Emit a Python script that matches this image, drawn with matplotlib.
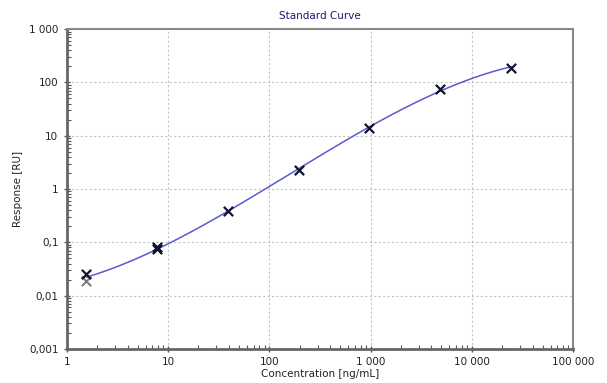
import numpy as np
import matplotlib.pyplot as plt
from matplotlib.ticker import LogLocator, FuncFormatter, NullFormatter

# standard curve replicates (concentration, response)
conc = [1.5625, 7.8125, 7.8125, 39.0625, 195.3125, 976.5625, 4882.8125, 24414.0625]
resp = [0.025, 0.080, 0.074, 0.38, 2.3, 14.2, 75.0, 190.0]
# replicate drawn in grey (excluded)
conc_out = [1.5625]
resp_out = [0.019]

x_ticks = [1, 10, 100, 1000, 10000, 100000]
y_ticks = [0.001, 0.01, 0.1, 1, 10, 100, 1000]


def fmt(v, pos):
    if v >= 1:
        return "{:,.0f}".format(v).replace(",", " ")
    s = "{:.3f}".format(v).rstrip("0")
    return s.replace(".", ",")


# smooth fit in log-log space
all_c = conc + conc_out
all_r = resp + resp_out
lx = np.log10(all_c)
ly = np.log10(all_r)
coef = np.polyfit(lx, ly, 3)
xf = np.logspace(lx.min(), lx.max(), 200)
yf = 10 ** np.polyval(coef, np.log10(xf))

fig = plt.figure(figsize=(6.07, 3.83), dpi=100)
ax = fig.add_axes([0.110, 0.089, 0.834, 0.835])

ax.plot(xf, yf, color="#5a5ad0", lw=1.1, zorder=3)
ax.scatter(conc_out, resp_out, marker="x", s=45, color="#777777", linewidths=1.4, zorder=4)
ax.scatter(conc, resp, marker="x", s=45, color="#111133", linewidths=1.6, zorder=5)

ax.set_xscale("log")
ax.set_yscale("log")
ax.set_xlim(1, 100000)
ax.set_ylim(0.001, 1000)
ax.set_xticks(x_ticks)
ax.set_yticks(y_ticks)
ax.xaxis.set_major_formatter(FuncFormatter(fmt))
ax.yaxis.set_major_formatter(FuncFormatter(fmt))
ax.xaxis.set_minor_locator(LogLocator(base=10, subs=np.arange(2, 10)))
ax.yaxis.set_minor_locator(LogLocator(base=10, subs=np.arange(2, 10)))
ax.xaxis.set_minor_formatter(NullFormatter())
ax.yaxis.set_minor_formatter(NullFormatter())

ax.grid(True, which="major", ls=(0, (2, 2)), color="#c4c4c4", lw=0.8)
ax.tick_params(which="major", direction="inout", length=5, width=1, colors="#555555",
               labelcolor="#222222", labelsize=7.5)
ax.tick_params(which="minor", direction="in", length=3, width=0.8, colors="#555555")
for side in ["left", "bottom"]:
    ax.spines[side].set_linewidth(2)
    ax.spines[side].set_color("#666666")
for side in ["top", "right"]:
    ax.spines[side].set_linewidth(1.5)
    ax.spines[side].set_color("#888888")

ax.set_title("Standard Curve", fontsize=7.5, color="#1a1a6e", pad=7)
ax.set_xlabel("Concentration [ng/mL]", fontsize=7.5, color="#222222", labelpad=1)
ax.set_ylabel("Response [RU]", fontsize=7.5, color="#222222", labelpad=4)

fig.savefig("out.png", dpi=100, facecolor="white")
